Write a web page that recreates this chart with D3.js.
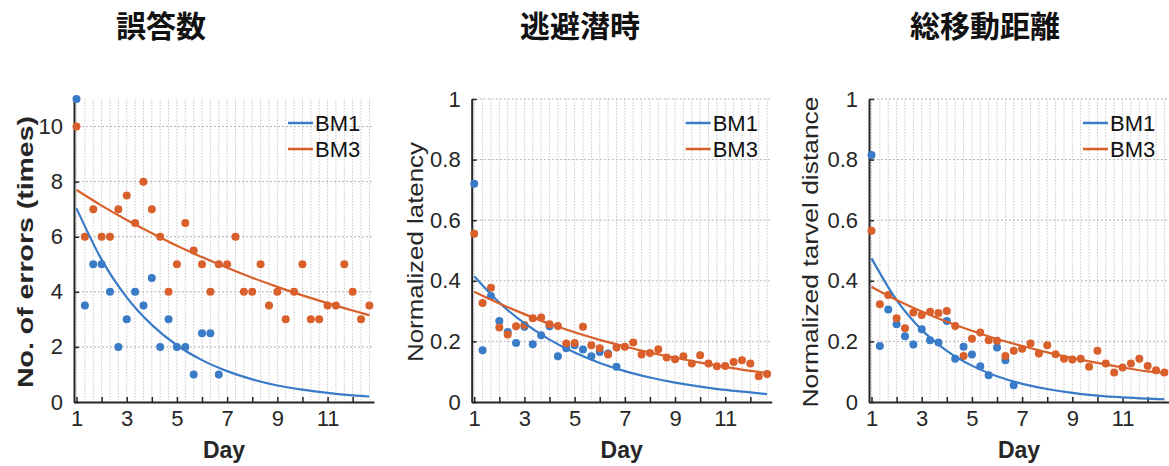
<!DOCTYPE html>
<html>
<head>
<meta charset="utf-8">
<script src="https://cdn.jsdelivr.net/npm/d3@7"></script>
<style>
body { margin: 0; background: #fff; }
svg { display: block; }
</style>
</head>
<body>
<script>
var w = 1169;
var h = 466;

// session days (3 sessions per day)
var sessions = [1, 1.333, 1.667, 2, 2.333, 2.667, 3, 3.333, 3.667, 4, 4.333, 4.667,
    5, 5.333, 5.667, 6, 6.333, 6.667, 7, 7.333, 7.667, 8, 8.333, 8.667,
    9, 9.333, 9.667, 10, 10.333, 10.667, 11, 11.333, 11.667, 12, 12.333, 12.667];
var fitDays = [1, 2, 3, 4, 5, 6, 7, 8, 9, 10, 11, 12, 12.667];
var dayTicks = [1, 2, 3, 4, 5, 6, 7, 8, 9, 10, 11, 12];
var dayLabels = [1, 3, 5, 7, 9, 11];
var errTicks = [0, 2, 4, 6, 8, 10];
var normTicks = [0, 0.2, 0.4, 0.6, 0.8, 1];
var titles = ["誤答数", "逃避潜時", "総移動距離"];
var yLabels = ["No. of errors (times)", "Normalized latency", "Normalized tarvel distance"];
var seriesNames = ["BM1", "BM3"];

// 誤答数
var errBM1 = [11, 3.5, 5, 5, 4, 2, 3, 4, 3.5, 4.5, 2, 3, 2, 2, 1, 2.5, 2.5, 1];
var errBM3 = [10, 6, 7, 6, 6, 7, 7.5, 6.5, 8, 7, 6, 4, 5, 6.5, 5.5, 5, 4, 5,
    5, 6, 4, 4, 5, 3.5, 4, 3, 4, 5, 3, 3, 3.5, 3.5, 5, 4, 3, 3.5];
var errFitBM1 = [7.03, 5.17, 3.8, 2.8, 2.06, 1.52, 1.12, 0.82, 0.6, 0.45, 0.33, 0.24, 0.2];
var errFitBM3 = [7.7, 7.13, 6.61, 6.13, 5.67, 5.26, 4.87, 4.51, 4.18, 3.87, 3.59, 3.32, 3.15];

// 逃避潜時
var latBM1 = [0.72, 0.171, 0.35, 0.267, 0.231, 0.195, 0.248, 0.191, 0.22, 0.25, 0.151, 0.177,
    0.187, 0.173, 0.151, 0.165, 0.16, 0.116];
var latBM3 = [0.555, 0.327, 0.377, 0.246, 0.223, 0.25, 0.254, 0.276, 0.279, 0.257, 0.251, 0.193,
    0.195, 0.248, 0.187, 0.177, 0.157, 0.18, 0.182, 0.196, 0.157, 0.162, 0.174, 0.147,
    0.141, 0.151, 0.127, 0.154, 0.127, 0.118, 0.119, 0.132, 0.138, 0.127, 0.085, 0.092];
var latFitBM1 = [0.415, 0.328, 0.26, 0.206, 0.163, 0.129, 0.102, 0.081, 0.064, 0.051, 0.04, 0.032, 0.026];
var latFitBM3 = [0.364, 0.325, 0.29, 0.258, 0.23, 0.205, 0.183, 0.163, 0.146, 0.13, 0.116, 0.103, 0.096];

// 総移動距離
var distBM1 = [0.815, 0.185, 0.305, 0.257, 0.217, 0.19, 0.24, 0.204, 0.196, 0.267, 0.143, 0.182,
    0.157, 0.118, 0.088, 0.18, 0.138, 0.055];
var distBM3 = [0.565, 0.323, 0.353, 0.276, 0.243, 0.295, 0.287, 0.298, 0.294, 0.3, 0.251, 0.152,
    0.209, 0.229, 0.204, 0.202, 0.152, 0.169, 0.176, 0.193, 0.16, 0.187, 0.158, 0.143,
    0.14, 0.143, 0.116, 0.169, 0.127, 0.097, 0.114, 0.127, 0.143, 0.119, 0.105, 0.097];
var distFitBM1 = [0.474, 0.336, 0.238, 0.169, 0.12, 0.085, 0.06, 0.043, 0.03, 0.021, 0.015, 0.011, 0.009];
var distFitBM3 = [0.38, 0.337, 0.299, 0.265, 0.235, 0.208, 0.185, 0.164, 0.145, 0.129, 0.114, 0.101, 0.096];

var blue = "#3a7bc8";
var orange = "#d9602b";
var ink = "#262626";
var fontNum = "'Liberation Sans', Arial, sans-serif";
var fontCJK = "'Noto Sans CJK JP', sans-serif";

var panels = [
    { left: 74, title: titles[0], titleX: 161, label: yLabels[0], labelX: 33, labelLen: 272, bold: true,
      ymax: 11, yticks: errTicks, a: errBM1, b: errBM3, fa: errFitBM1, fb: errFitBM3 },
    { left: 471.7, title: titles[1], titleX: 580, label: yLabels[1], labelX: 423, labelLen: 220, bold: false,
      ymax: 1, yticks: normTicks, a: latBM1, b: latBM3, fa: latFitBM1, fb: latFitBM3 },
    { left: 869, title: titles[2], titleX: 985, label: yLabels[2], labelX: 818, labelLen: 311, bold: false,
      ymax: 1, yticks: normTicks, a: distBM1, b: distBM3, fa: distFitBM1, fb: distFitBM3 }
];

var plotTop = 99;
var plotBottom = 402;
var pw = 300;

var svg = d3.select("body")
    .append("svg")
    .attr("width", w)
    .attr("height", h);

svg.append("rect")
    .attr("width", w)
    .attr("height", h)
    .attr("fill", "#fff");

panels.forEach(function(p) {
    var x = d3.scaleLinear().domain([0.9, 12.85]).range([p.left, p.left + pw]);
    var y = d3.scaleLinear().domain([0, p.ymax]).range([plotBottom, plotTop]);
    var g = svg.append("g");

    // title
    svg.append("text")
        .text(p.title)
        .attr("x", p.titleX)
        .attr("y", 37)
        .attr("text-anchor", "middle")
        .attr("font-family", fontCJK)
        .attr("font-weight", "bold")
        .attr("font-size", "30px")
        .attr("fill", "#111");

    // grid
    g.selectAll(".vgrid")
        .data(sessions)
        .enter()
        .append("line")
        .attr("x1", function(d) { return x(d); })
        .attr("x2", function(d) { return x(d); })
        .attr("y1", plotTop)
        .attr("y2", plotBottom)
        .attr("stroke", "#c8c8c8")
        .attr("stroke-width", 1)
        .attr("stroke-dasharray", "1.5,1.5");

    g.selectAll(".hgrid")
        .data(p.yticks.filter(function(d) { return d > 0; }))
        .enter()
        .append("line")
        .attr("x1", p.left)
        .attr("x2", p.left + pw)
        .attr("y1", function(d) { return y(d); })
        .attr("y2", function(d) { return y(d); })
        .attr("stroke", "#b4b4b4")
        .attr("stroke-width", 1)
        .attr("stroke-dasharray", "2,2");

    // axes
    var xAxis = d3.axisBottom(x)
        .tickValues(dayTicks)
        .tickSizeInner(-5)
        .tickSizeOuter(0)
        .tickPadding(8)
        .tickFormat(function(d) { return dayLabels.indexOf(d) >= 0 ? d : ""; });
    var gx = g.append("g")
        .attr("transform", "translate(0," + plotBottom + ")")
        .call(xAxis);

    var yAxis = d3.axisLeft(y)
        .tickValues(p.yticks)
        .tickSizeInner(-5)
        .tickSizeOuter(0)
        .tickPadding(11)
        .tickFormat(function(d) { return String(d); });
    var gy = g.append("g")
        .attr("transform", "translate(" + p.left + ",0)")
        .call(yAxis);

    [gx, gy].forEach(function(a) {
        a.select(".domain").attr("stroke", ink).attr("stroke-width", 2);
        a.selectAll(".tick line").attr("stroke", ink).attr("stroke-width", 1.5);
        a.selectAll(".tick text")
            .attr("fill", ink)
            .attr("font-family", fontNum)
            .attr("font-size", "22px");
    });

    // axis labels
    svg.append("text")
        .text("Day")
        .attr("x", p.left + pw / 2)
        .attr("y", 458)
        .attr("text-anchor", "middle")
        .attr("font-family", fontNum)
        .attr("font-weight", "bold")
        .attr("font-size", "23px")
        .attr("fill", ink);

    svg.append("text")
        .text(p.label)
        .attr("transform", "translate(" + p.labelX + ",252) rotate(-90)")
        .attr("text-anchor", "middle")
        .attr("font-family", fontNum)
        .attr("font-weight", p.bold ? "bold" : "normal")
        .attr("font-size", "22px")
        .attr("textLength", p.labelLen)
        .attr("lengthAdjust", "spacingAndGlyphs")
        .attr("fill", ink);

    // dots
    g.selectAll(".dotA")
        .data(p.a)
        .enter()
        .append("circle")
        .attr("cx", function(d, i) { return x(sessions[i]); })
        .attr("cy", function(d) { return y(d); })
        .attr("r", 4)
        .attr("fill", blue);

    g.selectAll(".dotB")
        .data(p.b)
        .enter()
        .append("circle")
        .attr("cx", function(d, i) { return x(sessions[i]); })
        .attr("cy", function(d) { return y(d); })
        .attr("r", 4)
        .attr("fill", orange);

    // fit lines
    var line = d3.line()
        .x(function(d, i) { return x(fitDays[i]); })
        .y(function(d) { return y(d); })
        .curve(d3.curveMonotoneX);

    g.append("path")
        .attr("d", line(p.fa))
        .attr("fill", "none")
        .attr("stroke", blue)
        .attr("stroke-width", 2.2);

    g.append("path")
        .attr("d", line(p.fb))
        .attr("fill", "none")
        .attr("stroke", orange)
        .attr("stroke-width", 2.2);

    // legend
    var legend = g.selectAll(".legend")
        .data(seriesNames)
        .enter()
        .append("g")
        .attr("transform", function(d, i) {
            return "translate(" + (p.left + pw - 86) + "," + (123 + i * 26) + ")";
        });

    legend.append("line")
        .attr("x1", 0)
        .attr("x2", 25)
        .attr("stroke", function(d, i) { return i == 0 ? blue : orange; })
        .attr("stroke-width", 2.5);

    legend.append("text")
        .text(function(d) { return d; })
        .attr("x", 27)
        .attr("dy", "0.36em")
        .attr("font-family", fontNum)
        .attr("font-size", "22px")
        .attr("fill", "#111");
});
</script>
</body>
</html>
